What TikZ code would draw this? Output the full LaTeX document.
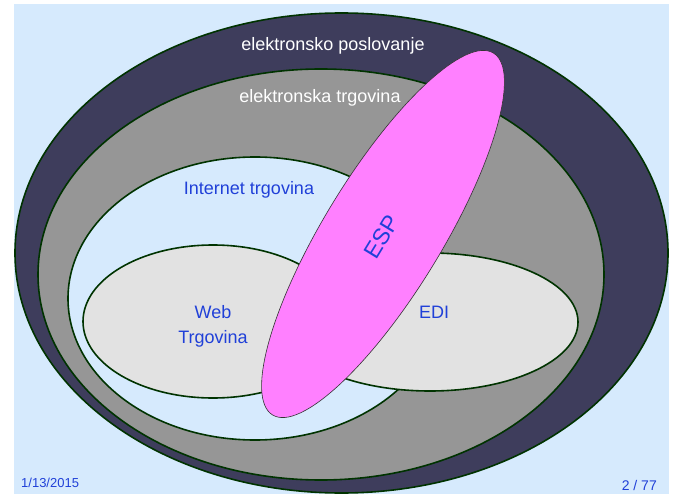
\documentclass[tikz,border=0pt]{standalone}
\usepackage{fontspec}
\setmainfont{Liberation Sans}
\usetikzlibrary{shapes.geometric}
\definecolor{panelbg}{RGB}{214,234,253}
\definecolor{navy}{RGB}{62,61,92}
\definecolor{midgray}{RGB}{150,150,150}
\definecolor{lightgray}{RGB}{226,226,226}
\definecolor{pinkm}{RGB}{255,128,255}
\definecolor{rimgreen}{RGB}{0,51,0}
\definecolor{textblue}{RGB}{32,64,216}
\tikzset{
  ring/.style={ellipse, draw=rimgreen, line width=1.6pt, inner sep=0pt, outer sep=0pt},
  espshape/.style={ellipse, draw=black!80, line width=0.6pt, fill=pinkm, inner sep=0pt},
  bigwhite/.style={text=white, font=\fontsize{18}{22}\selectfont, inner sep=0pt, anchor=base},
  bluelbl/.style={text=textblue, font=\fontsize{18}{22}\selectfont, inner sep=0pt, anchor=base},
  footer/.style={text=textblue, inner sep=0pt, anchor=base}
}
\begin{document}
\begin{tikzpicture}[x=1pt,y=-1pt]
\useasboundingbox (0,0) rectangle (676,494);
\fill[panelbg] (14,4) rectangle (669,494);
\node[ring, fill=navy, minimum width=653pt, minimum height=480pt] (ep) at (341.5,253) {};
\node[ring, fill=midgray, minimum width=566pt, minimum height=411pt] (et) at (321,274.5) {};
\node[ring, fill=panelbg, minimum width=374pt, minimum height=283pt] (it) at (255,298.5) {};
\node[ring, fill=lightgray, minimum width=260pt, minimum height=153pt] (web) at (213,321.5) {};
\node[ring, fill=lightgray, minimum width=296pt, minimum height=138pt] (edi) at (430,322) {};
\node[espshape, minimum width=424pt, minimum height=118pt, rotate=58.6] (esp) at (383,234) {};
\node[bigwhite] (tep) at (333,51) {elektronsko poslovanje};
\node[bigwhite] (tet) at (320,103) {elektronska trgovina};
\node[bluelbl] (tit) at (249,195) {Internet trgovina};
\node[bluelbl] (tweb) at (213,318) {Web};
\node[bluelbl] (ttrg) at (213,343) {Trgovina};
\node[bluelbl] (tedi) at (434,318) {EDI};
\node[text=textblue, font=\fontsize{23}{26}\selectfont, inner sep=0pt, rotate=58.6] (tesp) at (382,237) {ESP};
\node[footer, font=\fontsize{13}{15}\selectfont, anchor=base west] (date) at (21,487) {1/13/2015};
\node[footer, font=\fontsize{14}{16}\selectfont, anchor=base east] (page) at (657,490) {2 / 77};
\end{tikzpicture}
\end{document}
